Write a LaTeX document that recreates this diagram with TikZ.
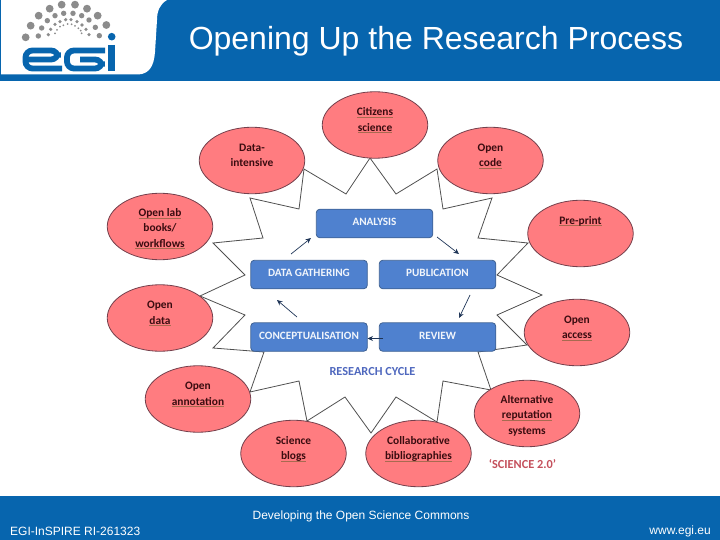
\documentclass[tikz,border=0pt]{standalone}
\usepackage{fontspec}
\setmainfont{Carlito}
\newfontfamily\arialfont{Liberation Sans}
\usetikzlibrary{arrows.meta,shapes.geometric}
\definecolor{egiblue}{HTML}{0765AE}
\definecolor{ellfill}{HTML}{FF7C80}
\definecolor{ellline}{HTML}{74404C}
\definecolor{boxfill}{HTML}{4F81CF}
\definecolor{boxline}{HTML}{3F6294}
\definecolor{starline}{HTML}{505050}
\definecolor{arrowc}{HTML}{1F3557}
\definecolor{ellc}{HTML}{3A0C10}
\definecolor{sqc}{HTML}{A86A50}
\definecolor{dotgrey}{HTML}{8C8C8C}
\definecolor{cyclec}{HTML}{4F68BE}
\definecolor{scic}{HTML}{C4505C}
\newcommand\sq[1]{\leavevmode\setbox0\hbox{#1}\rlap{\raisebox{-1.7pt}{\color{sqc}\rule{\wd0}{0.6pt}}}\box0}
\newcommand\up[1]{\raisebox{3pt}{#1}}
\newcommand\fl{\leavevmode\rule{0pt}{12.5pt}}
\tikzset{
  topic/.style={ellipse,draw=ellline,fill=ellfill,line width=0.8pt,minimum width=105.5pt,minimum height=66.5pt,inner sep=0pt,align=center,text=ellc,font=\fontsize{11.4}{15.4}\selectfont\bfseries},
  stage/.style={rectangle,rounded corners=3.5pt,draw=boxline,fill=boxfill,line width=0.8pt,minimum width=116.5pt,minimum height=28.5pt,inner sep=0pt,text=white!92!boxfill,font=\fontsize{11.2}{12}\selectfont\bfseries},
  flow/.style={draw=arrowc,line width=0.7pt,-{Stealth[length=5.5pt,width=5pt]}},
  starline/.style={draw=starline,line width=0.8pt,line join=miter},
  dot/.style={fill=dotgrey,draw=none},
  logostroke/.style={draw=egiblue,line width=5.8pt,line cap=butt,rounded corners=7pt},
}
\begin{document}
\begin{tikzpicture}[x=1pt,y=-1pt]
\useasboundingbox (0,0) rectangle (720,540);
% header
\fill[egiblue] (0,0) rectangle (720,81);
\fill[white] (1,0) -- (167,0) .. controls (160,4) and (157,11) .. (157,20) -- (155,52) .. controls (154,65) and (150,74) .. (138,74.5) -- (1,74.5) -- cycle;
\node[text=white,font=\arialfont\fontsize{32}{36}\selectfont,anchor=center] (title) at (436,41.5) {Opening Up the Research Process};
% footer
\fill[egiblue] (0,496) rectangle (720,540);
\node[text=white,font=\arialfont\fontsize{12}{14}\selectfont] (foot) at (361,516.5) {Developing the Open Science Commons};
\node[text=white,font=\arialfont\fontsize{12}{14}\selectfont,anchor=west,inner sep=0pt] (rinum) at (10,531) {EGI-InSPIRE RI-261323};
\node[text=white,font=\arialfont\fontsize{12}{14}\selectfont,anchor=east,inner sep=0pt] (web) at (711,531) {www.egi.eu};
% logo dots
\foreach \x/\y in {32/112,47/77,71/47,104/26,140/14,180/14,216/26,248/47,274/75}
  \fill[dot] ({\x/3+15},{\y/3}) circle (3.9);
\foreach \x/\y in {70/108,80/84,97/62,120/47,146/40,174/40,200/47,222/60,241/82,253/107}
  \fill[dot] ({\x/3+15},{\y/3}) circle (2.7);
\foreach \x/\y in {100/104,107/88,120/73,135/65,152/59,168/59,186/65,201/75,213/88,222/104}
  \fill[dot] ({\x/3+15},{\y/3}) circle (1.8);
\foreach \x/\y in {120/100,126/90,135/80,145/76,158/72,170/73,180/78,190/85,197/92,200/100}
  \fill[dot] ({\x/3+15},{\y/3}) circle (1);
\fill[egiblue] (111.7,36.7) circle (3.8);
% logo letters
\draw[logostroke] (62,68.5) -- (25.5,68.5) -- (25.5,50.5) -- (58,50.5) -- (58,59.5) -- (27,59.5);
\draw[logostroke] (105,50.5) -- (67,50.5) -- (67,68.5) -- (102,68.5) -- (102,59.5) -- (80,59.5);
\draw[draw=egiblue,line width=7pt] (111.5,45) -- (111.5,71.5);
% star
\draw[starline] (370,158) -- (396,194) -- (437,169) -- (443,209) -- (492,198) -- (478,238) -- (528,243) -- (497,275) -- (542,295) -- (497,315) -- (527,345) -- (478,352) -- (491,390) -- (443,381) -- (437,422) -- (396,397) -- (371,433) -- (345,397) -- (307,421) -- (299,381) -- (250,392) -- (264,352) -- (213,348) -- (245,315) -- (200,296) -- (245,275) -- (213,243) -- (263,238) -- (250,198) -- (299,209) -- (304,169) -- (346,194) -- cycle;
% topics
\node[topic] (citizens) at (375,125) {\fl\sq{Citizens}\\\sq{science}\\~};
\node[topic] (dataint) at (252,160.5) {\fl Data-\\intensive\\~};
\node[topic] (opencode) at (490.5,160.5) {\fl Open\\\sq{code}\\~};
\node[topic] (preprint) at (580.5,233.5) {\fl\sq{Pre-print}\\~\\~};
\node[topic] (openlab) at (160,226.5) {\fl\sq{Open lab}\\books/\\\sq{workflows}};
\node[topic] (opendata) at (160,318) {\fl Open\\\sq{data}\\~};
\node[topic] (openaccess) at (577,332.5) {\fl Open\\\sq{access}\\~};
\node[topic] (annotation) at (198,399) {\fl Open\\\sq{annotation}\\~};
\node[topic] (blogs) at (293.5,453.5) {\fl Science\\\sq{blogs}\\~};
\node[topic] (collab) at (418.5,453.5) {\fl Collaborative\\\sq{bibliographies}\\~};
\node[topic] (altrep) at (527,413.5) {\fl Alternative\\\sq{reputation}\\systems};
% cycle
\node[stage] (analysis) at (374.5,223.5) {\up{ANALYSIS}};
\node[stage] (gathering) at (309,274.5) {\up{DATA GATHERING}};
\node[stage] (publication) at (437.5,274.5) {\up{PUBLICATION}};
\node[stage] (concept) at (309,337) {\up{CONCEPTUALISATION}};
\node[stage] (review) at (437.5,337) {\up{REVIEW}};
\coordinate (a1s) at (291,254); \coordinate (a1e) at (311,238);
\coordinate (a2s) at (437,237); \coordinate (a2e) at (459,254);
\coordinate (a3s) at (470,295); \coordinate (a3e) at (459,318);
\coordinate (a4s) at (383,338.5); \coordinate (a4e) at (367.5,338.5);
\coordinate (a5s) at (297,317); \coordinate (a5e) at (277,300);
\draw[flow] (a1s) -- (a1e);
\draw[flow] (a2s) -- (a2e);
\draw[flow] (a3s) -- (a3e);
\draw[flow] (a4s) -- (a4e);
\draw[flow] (a5s) -- (a5e);
\node[text=cyclec,font=\fontsize{12.3}{14}\selectfont\bfseries] (cycle) at (372.5,371.5) {RESEARCH CYCLE};
\node[text=scic,font=\fontsize{12.3}{14}\selectfont\bfseries] (sci) at (522.5,464) {‘SCIENCE 2.0’};
\end{tikzpicture}
\end{document}
